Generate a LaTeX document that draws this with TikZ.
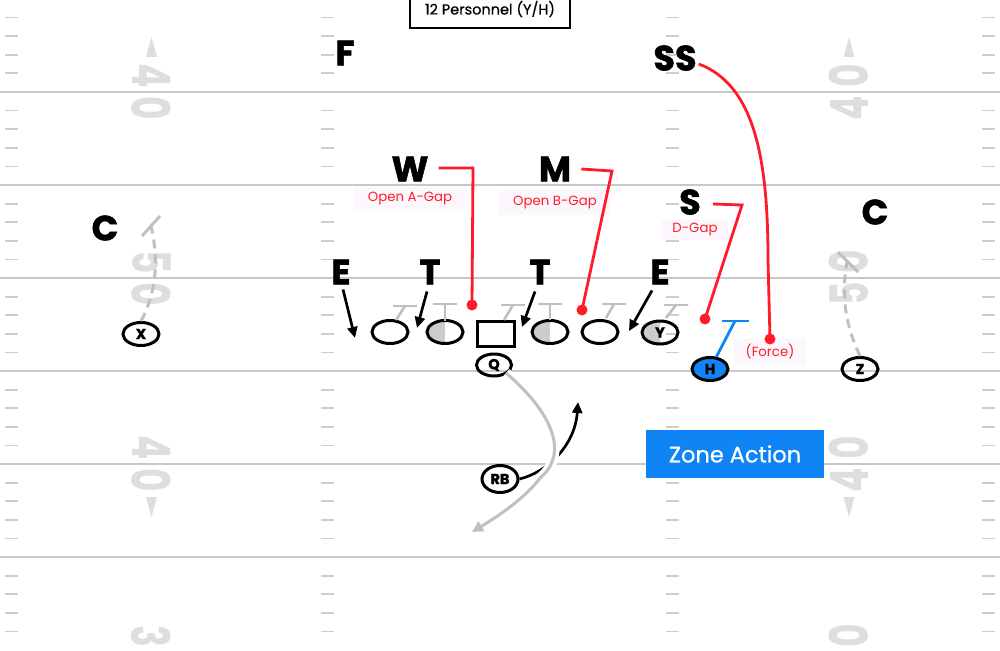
\documentclass[tikz,border=0pt]{standalone}
\usepackage{fontspec}
\setmainfont{Poppins}
\newfontfamily\heavy{Poppins}[FakeBold=1.6]
\newfontfamily\semi{Poppins}[FakeBold=0.6]
\usetikzlibrary{shapes.geometric,arrows.meta}
\definecolor{fline}{RGB}{200,200,200}
\definecolor{tickc}{RGB}{205,205,205}
\definecolor{numgray}{RGB}{222,222,222}
\definecolor{blockgray}{RGB}{192,192,192}
\definecolor{halfgray}{RGB}{204,204,204}
\definecolor{rred}{RGB}{255,28,40}
\definecolor{bblue}{RGB}{14,132,245}
\definecolor{labbg}{RGB}{252,247,252}
\begin{document}
\begin{tikzpicture}[x=1pt,y=-1pt,
  defl/.style={font=\heavy\fontsize{35}{35}\selectfont\bfseries, inner sep=0},
  lab/.style={text=rred, font=\fontsize{13.3}{13.3}\selectfont, fill=labbg, inner xsep=14, inner ysep=6},
  pl/.style={ellipse, draw, line width=3, minimum width=36, minimum height=23, inner sep=0, font=\heavy\fontsize{14.5}{14.5}\selectfont\bfseries},
  half/.style={path picture={\fill[halfgray] (path picture bounding box.south west) rectangle (path picture bounding box.north);}},
  numsty/.style={text=numgray, font=\fontsize{53}{53}\selectfont\bfseries, inner sep=0},
  tick/.style={draw=tickc, line width=1.8},
  rline/.style={draw=rred, line width=2.8},
  darr/.style={draw=black, line width=2.7, -{Triangle[length=11pt,width=10pt]}},
  gblock/.style={draw=blockgray, line width=2.6},
  gdash/.style={draw=blockgray, line width=3, dash pattern=on 9pt off 6pt}
]
\useasboundingbox (0,0) rectangle (1000,650);
\fill[white] (0,0) rectangle (1000,650);
% yard lines and hash marks
\foreach \j in {1,...,6}{\draw[fline, line width=1.8] (0,{-1+93*\j}) -- (1000,{-1+93*\j});}
\foreach \j in {0,...,6}{\foreach \i in {1,...,4}{
  \pgfmathsetmacro{\yy}{-1+93*\j+18.6*\i}
  \foreach \xa in {5,321,666,982}{\draw[tick] (\xa,\yy) -- ++(13,0);}}}
% yard numbers
\node[numsty, rotate=-90] (nl1) at (151.5,76) {\scalebox{0.68}[1]{4}};
\node[numsty, rotate=-90] (nl2) at (151.5,108) {\scalebox{0.68}[1]{0}};
\node[numsty, rotate=-90] (nl3) at (151.5,262) {\scalebox{0.68}[1]{5}};
\node[numsty, rotate=-90] (nl4) at (151.5,294) {\scalebox{0.68}[1]{0}};
\node[numsty, rotate=-90] (nl5) at (151.5,448) {\scalebox{0.68}[1]{4}};
\node[numsty, rotate=-90] (nl6) at (151.5,480) {\scalebox{0.68}[1]{0}};
\node[numsty, rotate=-90] (nl7) at (151.5,636) {\scalebox{0.68}[1]{3}};
\node[numsty, rotate=90] (nr1) at (849,76) {\scalebox{0.68}[1]{0}};
\node[numsty, rotate=90] (nr2) at (849,108) {\scalebox{0.68}[1]{4}};
\node[numsty, rotate=90] (nr3) at (849,262) {\scalebox{0.68}[1]{0}};
\node[numsty, rotate=90] (nr4) at (849,294) {\scalebox{0.68}[1]{5}};
\node[numsty, rotate=90] (nr5) at (849,448) {\scalebox{0.68}[1]{0}};
\node[numsty, rotate=90] (nr6) at (849,480) {\scalebox{0.68}[1]{4}};
\node[numsty, rotate=90] (nr7) at (849,636) {\scalebox{0.68}[1]{0}};
\fill[numgray] (146,57) -- (157,57) -- (151.5,37) -- cycle;
\fill[numgray] (146,497) -- (157,497) -- (151.5,517) -- cycle;
\fill[numgray] (843.5,57) -- (854.5,57) -- (849,37) -- cycle;
\fill[numgray] (843.5,497) -- (854.5,497) -- (849,517) -- cycle;
% title
\node[draw, line width=1.6, minimum width=160, minimum height=38, inner sep=0, fill=white,
  font=\semi\fontsize{14.5}{14.5}\selectfont] (title) at (490,9) {\raisebox{1pt}{12 Personnel (Y/H)}};
% labels
\node[lab] (la) at (410,199) {Open A-Gap};
\node[lab] (lb) at (555,203) {Open B-Gap};
\node[lab, inner xsep=10, inner ysep=4] (ld) at (695,230) {D-Gap};
\node[lab, inner xsep=12] (lf) at (770,352) {(Force)};
% defense
\node[defl] (F) at (345,53) {F};
\node[defl] (SS) at (675,58) {SS};
\node[defl] (W) at (410,169) {W};
\node[defl] (M) at (555,169) {M};
\node[defl] (S) at (690,202) {S};
\node[defl] (CL) at (105,228) {C};
\node[defl] (CR) at (875,212) {C};
\node[defl] (EL) at (341,272) {E};
\node[defl] (TL) at (430,272) {T};
\node[defl] (TR) at (540,272) {T};
\node[defl] (ER) at (660,272) {E};
% offense
\node[pl] (X) at (141,334) {X};
\node[pl] (L1) at (390,332) {};
\node[pl, half] (L2) at (445,332) {};
\node[draw, line width=3, minimum width=37, minimum height=25, inner sep=0] (CN) at (495.5,334) {};
\node[pl, half] (L3) at (550,332) {};
\node[pl] (L4) at (600,332) {};
\node[pl, half] (Y) at (660,332.5) {Y};
\node[pl, fill=bblue] (H) at (710,369) {H};
\node[pl] (Z) at (860,369) {Z};
\node[pl, minimum width=35, minimum height=22] (Q) at (494,365) {Q};
\node[pl, minimum height=27] (RB) at (500,479) {RB};
% blocking Ts
\foreach \ax/\ay/\bx/\by in {396/320/405/306, 445/321/445/304, 504/320/513/305, 550/320/550/304, 606/318/614/304, 666/318/676/305}{
  \draw[gblock] (\ax,\ay) -- (\bx,\by);
  \draw[gblock] (\bx-12,\by) -- (\bx+12,\by);}
% X and Z blocks
\coordinate (xb) at (151,226);
\draw[gdash] (X.north) .. controls (158,290) and (158,255) .. (xb);
\draw[gblock, line width=3] ([shift={(-9,10)}]xb) -- ([shift={(9,-10)}]xb);
\coordinate (zb) at (847,262);
\draw[gdash] (Z.north) .. controls (843,320) and (842,290) .. (zb);
\draw[gblock, line width=3] ([shift={(-9,-10)}]zb) -- ([shift={(11,10)}]zb);
% H block
\coordinate (hb) at (735,321);
\draw[draw=bblue, line width=2.8] (H) -- (hb);
\draw[draw=bblue, line width=2.8] ([shift={(-13,0)}]hb) -- ([shift={(14,0)}]hb);
% defensive arrows
\coordinate (elt) at (355,338);
\coordinate (tlt) at (417,328);
\coordinate (trt) at (522,327);
\coordinate (ert) at (629,331);
\draw[darr] ([shift={(2,5)}]EL.south) -- (elt);
\draw[darr] ([shift={(-3,7)}]TL.south) -- (tlt);
\draw[darr] ([shift={(-5,7)}]TR.south) -- (trt);
\draw[darr] ([shift={(-8,6)}]ER.south) -- (ert);
% red assignments
\coordinate (wc) at (473,168); \coordinate (wd) at (472,305);
\draw[rline] ([shift={(10,-1)}]W.east) -- (wc) -- (wd);
\fill[rred] (wd) circle (5.5);
\coordinate (mc) at (612,171); \coordinate (md) at (582,310);
\draw[rline] ([shift={(10,0)}]M.east) -- (mc) -- (md);
\fill[rred] (md) circle (5.5);
\coordinate (sc) at (742,205); \coordinate (sd) at (705,319);
\draw[rline] ([shift={(12,2)}]S.east) -- (sc) -- (sd);
\fill[rred] (sd) circle (5.5);
\coordinate (ssd) at (770,339);
\draw[rline] ([shift={(2,6)}]SS.east) .. controls (755,85) and (768,160) .. (768,260) -- (ssd);
\fill[rred] (ssd) circle (5.5);
% RB path
\coordinate (rbt) at (578,402);
\draw[line width=2.7, -{Triangle[length=11pt,width=10pt]}] (RB.east) .. controls (548,472) and (575,445) .. (rbt);
% QB path
\coordinate (qt) at (472,532);
\draw[white, line width=10] ([shift={(12,8)}]Q.center) .. controls (555,415) and (568,455) .. (540,478) .. controls (525,498) and (500,515) .. (qt);
\draw[draw=blockgray, line width=3, -{Triangle[length=11pt,width=11pt]}] ([shift={(12,8)}]Q.center) .. controls (555,415) and (568,455) .. (540,478) .. controls (525,498) and (500,515) .. (qt);
% zone action
\node[fill=bblue, minimum width=178, minimum height=48, inner sep=0, text=white,
  font=\semi\fontsize{22.5}{22.5}\selectfont] (za) at (735,454) {Zone Action};
\end{tikzpicture}
\end{document}
